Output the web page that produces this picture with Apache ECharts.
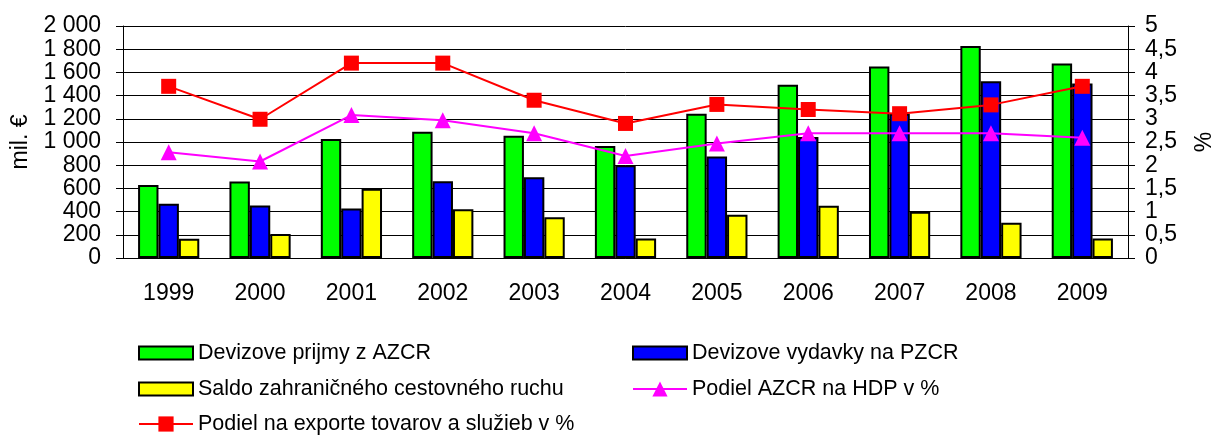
<!DOCTYPE html>
<html>
<head>
<meta charset="utf-8">
<script src="https://cdn.jsdelivr.net/npm/echarts@6/dist/echarts.min.js"></script>
<style>
html,body{margin:0;padding:0;background:#fff;}
#chart{width:1213px;height:435px;}
</style>
</head>
<body>
<div id="chart"></div>
<script>
const years = ['1999','2000','2001','2002','2003','2004','2005','2006','2007','2008','2009'];
const prijmy = [630, 659, 1026, 1089, 1054, 966, 1244, 1493, 1650, 1828, 1676];
const vydavky = [467, 453, 427, 662, 696, 799, 874, 1043, 1243, 1524, 1504];
const saldo = [166, 206, 596, 421, 352, 169, 372, 450, 398, 304, 169];
const podielHDP = [2.28, 2.08, 3.08, 2.97, 2.69, 2.2, 2.47, 2.69, 2.69, 2.69, 2.59];
const podielExport = [3.7, 2.99, 4.2, 4.2, 3.4, 2.9, 3.31, 3.2, 3.11, 3.3, 3.7];
const names = ['Devizove prijmy z AZCR', 'Devizove vydavky na PZCR', 'Saldo zahraničného cestovného ruchu', 'Podiel AZCR na HDP v %', 'Podiel na exporte tovarov a služieb v %'];

const FONT = 'Liberation Sans, Arial, sans-serif';
const chart = echarts.init(document.getElementById('chart'), null, {renderer: 'canvas'});

function legendAt(name, left, top, isBar) {
  const l = {
    data: [name], left: left, top: top, padding: 0,
    itemWidth: 54, itemHeight: isBar ? 13 : 19, itemGap: 0,
    textStyle: {fontFamily: FONT, fontSize: 21.5, color: '#000'}
  };
  if (isBar) l.icon = 'rect';
  return l;
}

const barStyle = c => ({color: c, borderColor: '#000', borderWidth: 2});

chart.setOption({
  animation: false,
  backgroundColor: '#fff',
  legend: [
    legendAt(names[0], 138, 342, true),
    legendAt(names[1], 632, 342, true),
    legendAt(names[2], 138, 378, true),
    legendAt(names[3], 632, 378, false),
    legendAt(names[4], 138, 413, false)
  ],
  grid: {left: 123, right: 85, top: 26, bottom: 177, outerBoundsMode: 'none', containLabel: false},
  xAxis: [{
    type: 'category', data: years,
    axisLine: {lineStyle: {color: '#000', width: 1}},
    axisTick: {length: 7, lineStyle: {color: '#000'}},
    axisLabel: {fontFamily: FONT, fontSize: 23, color: '#000', margin: 24}
  }, {
    type: 'category', data: years, position: 'bottom',
    axisLine: {show: false},
    axisTick: {inside: true, length: 7, lineStyle: {color: '#000'}},
    axisLabel: {show: false}
  }],
  yAxis: [{
    type: 'value', min: 0, max: 2000, interval: 200,
    name: 'mil. €', nameLocation: 'middle', nameRotate: 90, nameGap: 90,
    nameTextStyle: {fontFamily: FONT, fontSize: 23, color: '#000'},
    axisLine: {show: true, lineStyle: {color: '#000'}},
    axisTick: {show: true, length: 7, lineStyle: {color: '#000'}},
    splitLine: {lineStyle: {color: '#000', width: 1}},
    axisLabel: {
      fontFamily: FONT, fontSize: 23, color: '#000', margin: 22,
      formatter: v => v >= 1000 ? Math.floor(v / 1000) + ' ' + String(v % 1000).padStart(3, '0') : String(v)
    }
  }, {
    type: 'value', min: 0, max: 5, interval: 0.5, position: 'right',
    name: '%', nameLocation: 'middle', nameRotate: 90, nameGap: 65,
    nameTextStyle: {fontFamily: FONT, fontSize: 23, color: '#000'},
    axisLine: {show: true, lineStyle: {color: '#000'}},
    axisTick: {show: true, length: 7, lineStyle: {color: '#000'}},
    splitLine: {show: false},
    axisLabel: {
      fontFamily: FONT, fontSize: 23, color: '#000', margin: 17,
      formatter: v => String(v).replace('.', ',')
    }
  }],
  series: [
    {name: names[0], type: 'bar', data: prijmy, barGap: '0%', barCategoryGap: '33%', itemStyle: barStyle('#00ff00')},
    {name: names[1], type: 'bar', data: vydavky, itemStyle: barStyle('#0000ff')},
    {name: names[2], type: 'bar', data: saldo, itemStyle: barStyle('#ffff00')},
    {name: names[3], type: 'line', yAxisIndex: 1, data: podielHDP, symbol: 'triangle', symbolSize: 16,
     lineStyle: {color: '#ff00ff', width: 2}, itemStyle: {color: '#ff00ff'}},
    {name: names[4], type: 'line', yAxisIndex: 1, data: podielExport, symbol: 'rect', symbolSize: 15,
     lineStyle: {color: '#ff0000', width: 2}, itemStyle: {color: '#ff0000'}}
  ]
});
</script>
</body>
</html>
